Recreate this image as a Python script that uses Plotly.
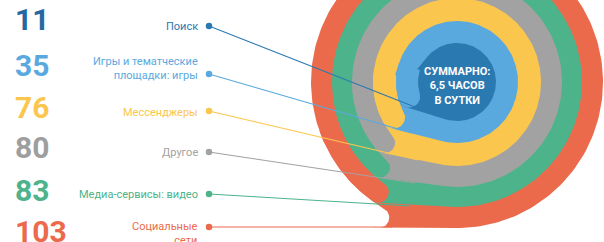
import numpy as np
import plotly.graph_objects as go

# ---------------- data ----------------
categories = ["Поиск", "Игры и тематческие<br>площадки: игры", "Мессенджеры",
              "Другое", "Медиа-сервисы: видео", "Социальные<br>сети"]
values = [11, 35, 76, 80, 83, 103]
colors = ["#2b79b1", "#5aa9de", "#fbc64e", "#a2a2a2", "#4db38b", "#ec6a4c"]
value_colors = ["#26689f", "#5aa9de", "#fbc64e", "#9e9e9e", "#4db38b", "#ec6a4c"]
center_text = "СУММАРНО:<br>6,5 ЧАСОВ<br>В СУТКИ"

# ---------------- layout geometry (pixels) ----------------
W, H = 604, 242
CX, CY = 457.0, 82.0
ring_outer = [39, 61, 84, 105, 125, 146, 167]      # last = background band
tip_angle = [None, 163, 151, 140, 132, 125.5, 120]  # start angle of each band
row_value_y = [19, 65, 107, 147, 190, 231]
row_label_y = [26, 68, 112, 152, 194, 233.5]
row_dot_y = [26, 74, 111, 152, 194, 227]
dot_x = 209
leader_end = [(415, 107), (412, 133), (418, 160), (415, 183), (410, 206), (392, 227)]


def circle_pts(cx, cy, r, n=240):
    a = np.linspace(0, 2 * np.pi, n, endpoint=False)
    return np.c_[cx + r * np.cos(a), cy + r * np.sin(a)]


def convex_hull(pts):
    pts = sorted(map(tuple, pts))

    def cross(o, a, b):
        return (a[0] - o[0]) * (b[1] - o[1]) - (a[1] - o[1]) * (b[0] - o[0])

    lower, upper = [], []
    for p in pts:
        while len(lower) >= 2 and cross(lower[-2], lower[-1], p) <= 0:
            lower.pop()
        lower.append(p)
    for p in reversed(pts):
        while len(upper) >= 2 and cross(upper[-2], upper[-1], p) <= 0:
            upper.pop()
        upper.append(p)
    return np.array(lower[:-1] + upper[:-1])


def tip_center(k):
    rin, rout = ring_outer[k - 1], ring_outer[k]
    rho = (rin + rout) / 2
    ph = np.radians(tip_angle[k])
    return CX + rho * np.cos(ph), CY + rho * np.sin(ph), (rout - rin) / 2


def tip_poly(k, span=35):
    rin, rout = ring_outer[k - 1], ring_outer[k]
    rho, h = (rin + rout) / 2, (rout - rin) / 2
    ps = np.radians(tip_angle[k])
    phis = np.linspace(ps, ps + np.radians(span), 80)
    outer = np.c_[CX + rout * np.cos(phis), CY + rout * np.sin(phis)]
    inner = np.c_[CX + rin * np.cos(phis[::-1]), CY + rin * np.sin(phis[::-1])]
    u = np.array([np.cos(ps), np.sin(ps)])
    t = np.array([np.sin(ps), -np.cos(ps)])
    P = np.array([CX + rho * np.cos(ps), CY + rho * np.sin(ps)])
    a = np.linspace(np.pi, 0, 40)
    cap = P + h * (np.cos(a)[:, None] * u + np.sin(a)[:, None] * t)
    return np.vstack([outer, inner, cap])


def add_poly(fig, pts, color):
    xs = list(pts[:, 0]) + [pts[0, 0]]
    ys = list(pts[:, 1]) + [pts[0, 1]]
    fig.add_trace(go.Scatter(x=xs, y=ys, mode="lines", fill="toself",
                             fillcolor=color, line=dict(width=0, color=color),
                             hoverinfo="skip", showlegend=False))


fig = go.Figure()

# bands, outermost first
for k in range(5, -1, -1):
    ex, ey, er = tip_center(k + 1)
    pts = np.vstack([circle_pts(CX, CY, ring_outer[k]), circle_pts(ex, ey, er, 80)])
    add_poly(fig, convex_hull(pts), colors[k])
    outer_color = "#ffffff" if k == 5 else colors[k + 1]
    add_poly(fig, tip_poly(k + 1), outer_color)

# leader lines and dots
for i in range(len(values)):
    ex, ey = leader_end[i]
    fig.add_trace(go.Scatter(x=[dot_x, ex], y=[row_dot_y[i], ey], mode="lines",
                             line=dict(color=colors[i], width=1.1),
                             hoverinfo="skip", showlegend=False))
fig.add_trace(go.Scatter(x=[dot_x] * len(values), y=row_dot_y, mode="markers",
                         marker=dict(color=colors, size=6.5),
                         hoverinfo="skip", showlegend=False))

annotations = []
for i, v in enumerate(values):
    annotations.append(dict(x=13, y=row_value_y[i], xref="x", yref="y", text=str(v),
                            showarrow=False, xanchor="left", yanchor="middle",
                            font=dict(family="Roboto", size=30, color=value_colors[i], weight=700)))
    annotations.append(dict(x=200, y=row_label_y[i], xref="x", yref="y", text=categories[i],
                            showarrow=False, xanchor="right", yanchor="middle", align="right",
                            font=dict(family="Roboto", size=11, color=colors[i])))
annotations.append(dict(x=CX, y=86, xref="x", yref="y", text=center_text, showarrow=False,
                        xanchor="center", yanchor="middle", align="center",
                        font=dict(family="Roboto", size=11, color="#ffffff", weight=700)))

fig.update_layout(
    width=W, height=H, margin=dict(l=0, r=0, t=0, b=0),
    paper_bgcolor="#ffffff", plot_bgcolor="#ffffff",
    xaxis=dict(range=[0, W], visible=False, fixedrange=True),
    yaxis=dict(range=[H, 0], visible=False, fixedrange=True),
    annotations=annotations, showlegend=False,
)
fig.write_html("out.html", config={"displayModeBar": False},
               post_script="document.body.style.margin='0';document.body.style.overflow='hidden';")
